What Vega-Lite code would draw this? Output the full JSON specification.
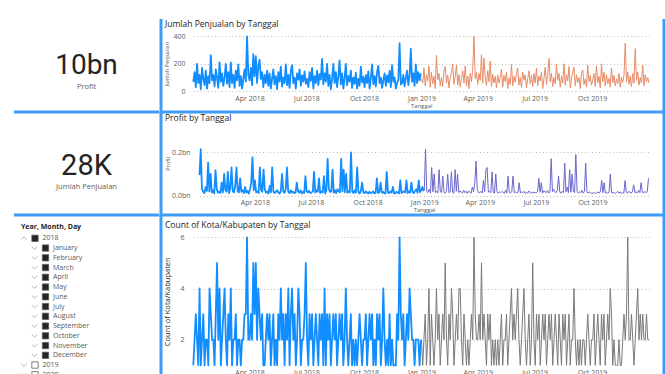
{
  "$schema": "https://vega.github.io/schema/vega-lite/v6.json",
  "description": "Dashboard penjualan harian 2018-2019: kartu KPI, slicer tanggal dan tiga grafik garis. Nilai profit dalam juta rupiah.",
  "padding": {"left": 12, "top": 17, "right": 0, "bottom": 0},
  "background": "white",
  "config": {
    "font": "Open Sans",
    "view": {"stroke": null},
    "axis": {"domain": false, "ticks": false, "grid": false, "labelColor": "#605E5C", "labelFontSize": 7, "titleColor": "#605E5C", "titleFontWeight": "normal", "titleFontSize": 6, "labelOverlap": false, "labelFlush": false, "gridColor": "#BEBCBA", "gridDash": [1, 2.5], "gridWidth": 1},
    "title": {"anchor": "start", "frame": "group", "fontWeight": "normal", "fontSize": 8.5, "color": "#252423", "baseline": "alphabetic"},
    "line": {"strokeJoin": "round"}
  },
  "datasets": {
    "kpi": [
      {"ukuran": "Profit", "nilai": "10bn"},
      {"ukuran": "Jumlah Penjualan", "nilai": "28K"}
    ],
    "pohon": [
      {"item": "2018", "baris": 0, "level": 0, "buka": "ya", "centang": "ya"},
      {"item": "January", "baris": 1, "level": 1, "buka": "tidak", "centang": "ya"},
      {"item": "February", "baris": 2, "level": 1, "buka": "tidak", "centang": "ya"},
      {"item": "March", "baris": 3, "level": 1, "buka": "tidak", "centang": "ya"},
      {"item": "April", "baris": 4, "level": 1, "buka": "tidak", "centang": "ya"},
      {"item": "May", "baris": 5, "level": 1, "buka": "tidak", "centang": "ya"},
      {"item": "June", "baris": 6, "level": 1, "buka": "tidak", "centang": "ya"},
      {"item": "July", "baris": 7, "level": 1, "buka": "tidak", "centang": "ya"},
      {"item": "August", "baris": 8, "level": 1, "buka": "tidak", "centang": "ya"},
      {"item": "September", "baris": 9, "level": 1, "buka": "tidak", "centang": "ya"},
      {"item": "October", "baris": 10, "level": 1, "buka": "tidak", "centang": "ya"},
      {"item": "November", "baris": 11, "level": 1, "buka": "tidak", "centang": "ya"},
      {"item": "December", "baris": 12, "level": 1, "buka": "tidak", "centang": "ya"},
      {"item": "2019", "baris": 13, "level": 0, "buka": "tidak", "centang": "tidak"},
      {"item": "2020", "baris": 14, "level": 0, "buka": "tidak", "centang": "tidak"}
    ],
    "harian": [
      {"tgl":"2018-01-01","jual":68,"profit":95,"kota":1},
      {"tgl":"2018-01-03","jual":140,"profit":214,"kota":2},
      {"tgl":"2018-01-05","jual":30,"profit":30,"kota":3},
      {"tgl":"2018-01-07","jual":200,"profit":18,"kota":2},
      {"tgl":"2018-01-09","jual":60,"profit":12,"kota":1},
      {"tgl":"2018-01-11","jual":120,"profit":40,"kota":4},
      {"tgl":"2018-01-13","jual":15,"profit":22,"kota":1},
      {"tgl":"2018-01-15","jual":170,"profit":152,"kota":2},
      {"tgl":"2018-01-17","jual":90,"profit":20,"kota":3},
      {"tgl":"2018-01-19","jual":45,"profit":100,"kota":1},
      {"tgl":"2018-01-21","jual":150,"profit":15,"kota":2},
      {"tgl":"2018-01-23","jual":20,"profit":25,"kota":2},
      {"tgl":"2018-01-25","jual":110,"profit":10,"kota":1},
      {"tgl":"2018-01-27","jual":60,"profit":118,"kota":4},
      {"tgl":"2018-01-29","jual":262,"profit":30,"kota":3},
      {"tgl":"2018-01-31","jual":80,"profit":14,"kota":2},
      {"tgl":"2018-02-02","jual":120,"profit":20,"kota":2},
      {"tgl":"2018-02-04","jual":35,"profit":12,"kota":1},
      {"tgl":"2018-02-06","jual":160,"profit":60,"kota":3},
      {"tgl":"2018-02-08","jual":95,"profit":15,"kota":5},
      {"tgl":"2018-02-10","jual":25,"profit":100,"kota":2},
      {"tgl":"2018-02-12","jual":210,"profit":25,"kota":4},
      {"tgl":"2018-02-14","jual":70,"profit":18,"kota":1},
      {"tgl":"2018-02-16","jual":130,"profit":110,"kota":2},
      {"tgl":"2018-02-18","jual":40,"profit":12,"kota":3},
      {"tgl":"2018-02-20","jual":100,"profit":35,"kota":4},
      {"tgl":"2018-02-22","jual":200,"profit":130,"kota":2},
      {"tgl":"2018-02-24","jual":55,"profit":20,"kota":1},
      {"tgl":"2018-02-26","jual":140,"profit":15,"kota":3},
      {"tgl":"2018-02-28","jual":30,"profit":45,"kota":2},
      {"tgl":"2018-03-02","jual":210,"profit":130,"kota":4},
      {"tgl":"2018-03-04","jual":60,"profit":20,"kota":1},
      {"tgl":"2018-03-06","jual":120,"profit":15,"kota":2},
      {"tgl":"2018-03-08","jual":25,"profit":80,"kota":2},
      {"tgl":"2018-03-10","jual":150,"profit":18,"kota":3},
      {"tgl":"2018-03-12","jual":80,"profit":25,"kota":1},
      {"tgl":"2018-03-14","jual":195,"profit":12,"kota":2},
      {"tgl":"2018-03-16","jual":40,"profit":40,"kota":2},
      {"tgl":"2018-03-18","jual":110,"profit":15,"kota":1},
      {"tgl":"2018-03-20","jual":20,"profit":22,"kota":2},
      {"tgl":"2018-03-22","jual":90,"profit":10,"kota":2},
      {"tgl":"2018-03-24","jual":160,"profit":30,"kota":3},
      {"tgl":"2018-03-26","jual":70,"profit":60,"kota":3},
      {"tgl":"2018-03-28","jual":400,"profit":177,"kota":6},
      {"tgl":"2018-03-30","jual":120,"profit":25,"kota":2},
      {"tgl":"2018-04-01","jual":80,"profit":70,"kota":2},
      {"tgl":"2018-04-03","jual":170,"profit":15,"kota":3},
      {"tgl":"2018-04-05","jual":45,"profit":20,"kota":2},
      {"tgl":"2018-04-07","jual":270,"profit":12,"kota":5},
      {"tgl":"2018-04-09","jual":110,"profit":130,"kota":3},
      {"tgl":"2018-04-11","jual":255,"profit":25,"kota":5},
      {"tgl":"2018-04-13","jual":60,"profit":18,"kota":2},
      {"tgl":"2018-04-15","jual":180,"profit":120,"kota":4},
      {"tgl":"2018-04-17","jual":230,"profit":30,"kota":3},
      {"tgl":"2018-04-19","jual":90,"profit":14,"kota":2},
      {"tgl":"2018-04-21","jual":140,"profit":20,"kota":3},
      {"tgl":"2018-04-23","jual":30,"profit":10,"kota":1},
      {"tgl":"2018-04-25","jual":120,"profit":45,"kota":1},
      {"tgl":"2018-04-27","jual":60,"profit":16,"kota":2},
      {"tgl":"2018-04-29","jual":150,"profit":130,"kota":3},
      {"tgl":"2018-05-01","jual":40,"profit":20,"kota":2},
      {"tgl":"2018-05-03","jual":130,"profit":12,"kota":3},
      {"tgl":"2018-05-05","jual":20,"profit":18,"kota":1},
      {"tgl":"2018-05-07","jual":90,"profit":25,"kota":2},
      {"tgl":"2018-05-09","jual":160,"profit":15,"kota":3},
      {"tgl":"2018-05-11","jual":50,"profit":10,"kota":1},
      {"tgl":"2018-05-13","jual":110,"profit":22,"kota":2},
      {"tgl":"2018-05-15","jual":15,"profit":100,"kota":1},
      {"tgl":"2018-05-17","jual":140,"profit":18,"kota":3},
      {"tgl":"2018-05-19","jual":70,"profit":14,"kota":2},
      {"tgl":"2018-05-21","jual":180,"profit":30,"kota":4},
      {"tgl":"2018-05-23","jual":35,"profit":130,"kota":2},
      {"tgl":"2018-05-25","jual":100,"profit":20,"kota":3},
      {"tgl":"2018-05-27","jual":60,"profit":12,"kota":1},
      {"tgl":"2018-05-29","jual":195,"profit":25,"kota":3},
      {"tgl":"2018-05-31","jual":45,"profit":15,"kota":2},
      {"tgl":"2018-06-02","jual":120,"profit":18,"kota":4},
      {"tgl":"2018-06-04","jual":25,"profit":12,"kota":1},
      {"tgl":"2018-06-06","jual":150,"profit":15,"kota":3},
      {"tgl":"2018-06-08","jual":190,"profit":60,"kota":4},
      {"tgl":"2018-06-10","jual":60,"profit":20,"kota":2},
      {"tgl":"2018-06-12","jual":100,"profit":14,"kota":3},
      {"tgl":"2018-06-14","jual":20,"profit":25,"kota":1},
      {"tgl":"2018-06-16","jual":130,"profit":10,"kota":2},
      {"tgl":"2018-06-18","jual":85,"profit":18,"kota":4},
      {"tgl":"2018-06-20","jual":160,"profit":12,"kota":3},
      {"tgl":"2018-06-22","jual":40,"profit":90,"kota":1},
      {"tgl":"2018-06-24","jual":115,"profit":20,"kota":2},
      {"tgl":"2018-06-26","jual":70,"profit":15,"kota":2},
      {"tgl":"2018-06-28","jual":145,"profit":22,"kota":3},
      {"tgl":"2018-06-30","jual":55,"profit":12,"kota":5},
      {"tgl":"2018-07-02","jual":90,"profit":15,"kota":2},
      {"tgl":"2018-07-04","jual":30,"profit":20,"kota":1},
      {"tgl":"2018-07-06","jual":140,"profit":110,"kota":3},
      {"tgl":"2018-07-08","jual":75,"profit":14,"kota":2},
      {"tgl":"2018-07-10","jual":170,"profit":25,"kota":3},
      {"tgl":"2018-07-12","jual":20,"profit":18,"kota":1},
      {"tgl":"2018-07-14","jual":110,"profit":80,"kota":2},
      {"tgl":"2018-07-16","jual":60,"profit":12,"kota":3},
      {"tgl":"2018-07-18","jual":150,"profit":20,"kota":2},
      {"tgl":"2018-07-20","jual":45,"profit":15,"kota":1},
      {"tgl":"2018-07-22","jual":125,"profit":90,"kota":3},
      {"tgl":"2018-07-24","jual":85,"profit":10,"kota":2},
      {"tgl":"2018-07-26","jual":235,"profit":25,"kota":3},
      {"tgl":"2018-07-28","jual":50,"profit":170,"kota":1},
      {"tgl":"2018-07-30","jual":130,"profit":30,"kota":4},
      {"tgl":"2018-08-01","jual":70,"profit":18,"kota":1},
      {"tgl":"2018-08-03","jual":200,"profit":20,"kota":3},
      {"tgl":"2018-08-05","jual":40,"profit":120,"kota":2},
      {"tgl":"2018-08-07","jual":120,"profit":14,"kota":3},
      {"tgl":"2018-08-09","jual":15,"profit":25,"kota":1},
      {"tgl":"2018-08-11","jual":90,"profit":12,"kota":2},
      {"tgl":"2018-08-13","jual":200,"profit":30,"kota":3},
      {"tgl":"2018-08-15","jual":60,"profit":20,"kota":2},
      {"tgl":"2018-08-17","jual":140,"profit":15,"kota":3},
      {"tgl":"2018-08-19","jual":30,"profit":170,"kota":1},
      {"tgl":"2018-08-21","jual":110,"profit":20,"kota":2},
      {"tgl":"2018-08-23","jual":225,"profit":120,"kota":3},
      {"tgl":"2018-08-25","jual":50,"profit":16,"kota":2},
      {"tgl":"2018-08-27","jual":130,"profit":100,"kota":3},
      {"tgl":"2018-08-29","jual":20,"profit":14,"kota":1},
      {"tgl":"2018-08-31","jual":95,"profit":22,"kota":2},
      {"tgl":"2018-09-02","jual":200,"profit":15,"kota":4},
      {"tgl":"2018-09-04","jual":45,"profit":200,"kota":2},
      {"tgl":"2018-09-06","jual":110,"profit":20,"kota":1},
      {"tgl":"2018-09-08","jual":70,"profit":12,"kota":2},
      {"tgl":"2018-09-10","jual":150,"profit":25,"kota":3},
      {"tgl":"2018-09-12","jual":25,"profit":14,"kota":1},
      {"tgl":"2018-09-14","jual":100,"profit":130,"kota":2},
      {"tgl":"2018-09-16","jual":55,"profit":18,"kota":1},
      {"tgl":"2018-09-18","jual":135,"profit":10,"kota":2},
      {"tgl":"2018-09-20","jual":20,"profit":22,"kota":1},
      {"tgl":"2018-09-22","jual":90,"profit":60,"kota":2},
      {"tgl":"2018-09-24","jual":40,"profit":15,"kota":3},
      {"tgl":"2018-09-26","jual":180,"profit":12,"kota":2},
      {"tgl":"2018-09-28","jual":65,"profit":20,"kota":1},
      {"tgl":"2018-09-30","jual":105,"profit":14,"kota":2},
      {"tgl":"2018-10-02","jual":30,"profit":10,"kota":2},
      {"tgl":"2018-10-04","jual":120,"profit":18,"kota":3},
      {"tgl":"2018-10-06","jual":60,"profit":12,"kota":1},
      {"tgl":"2018-10-08","jual":145,"profit":15,"kota":2},
      {"tgl":"2018-10-10","jual":20,"profit":20,"kota":3},
      {"tgl":"2018-10-12","jual":95,"profit":10,"kota":2},
      {"tgl":"2018-10-14","jual":195,"profit":14,"kota":3},
      {"tgl":"2018-10-16","jual":50,"profit":80,"kota":1},
      {"tgl":"2018-10-18","jual":110,"profit":12,"kota":2},
      {"tgl":"2018-10-20","jual":35,"profit":16,"kota":1},
      {"tgl":"2018-10-22","jual":140,"profit":60,"kota":3},
      {"tgl":"2018-10-24","jual":185,"profit":14,"kota":2},
      {"tgl":"2018-10-26","jual":60,"profit":18,"kota":3},
      {"tgl":"2018-10-28","jual":100,"profit":10,"kota":1},
      {"tgl":"2018-10-30","jual":25,"profit":12,"kota":2},
      {"tgl":"2018-11-01","jual":80,"profit":110,"kota":4},
      {"tgl":"2018-11-03","jual":130,"profit":15,"kota":2},
      {"tgl":"2018-11-05","jual":40,"profit":12,"kota":1},
      {"tgl":"2018-11-07","jual":115,"profit":20,"kota":2},
      {"tgl":"2018-11-09","jual":65,"profit":14,"kota":1},
      {"tgl":"2018-11-11","jual":150,"profit":40,"kota":3},
      {"tgl":"2018-11-13","jual":30,"profit":10,"kota":1},
      {"tgl":"2018-11-15","jual":190,"profit":12,"kota":2},
      {"tgl":"2018-11-17","jual":70,"profit":18,"kota":1},
      {"tgl":"2018-11-19","jual":100,"profit":15,"kota":1},
      {"tgl":"2018-11-21","jual":20,"profit":10,"kota":1},
      {"tgl":"2018-11-23","jual":60,"profit":70,"kota":3},
      {"tgl":"2018-11-25","jual":85,"profit":12,"kota":2},
      {"tgl":"2018-11-27","jual":350,"profit":16,"kota":6},
      {"tgl":"2018-11-29","jual":50,"profit":20,"kota":3},
      {"tgl":"2018-12-01","jual":60,"profit":15,"kota":2},
      {"tgl":"2018-12-03","jual":120,"profit":70,"kota":3},
      {"tgl":"2018-12-05","jual":35,"profit":12,"kota":1},
      {"tgl":"2018-12-07","jual":95,"profit":20,"kota":2},
      {"tgl":"2018-12-09","jual":150,"profit":14,"kota":3},
      {"tgl":"2018-12-11","jual":45,"profit":60,"kota":2},
      {"tgl":"2018-12-13","jual":110,"profit":18,"kota":4},
      {"tgl":"2018-12-15","jual":310,"profit":12,"kota":3},
      {"tgl":"2018-12-17","jual":70,"profit":22,"kota":2},
      {"tgl":"2018-12-19","jual":130,"profit":30,"kota":2},
      {"tgl":"2018-12-21","jual":40,"profit":14,"kota":1},
      {"tgl":"2018-12-23","jual":195,"profit":70,"kota":2},
      {"tgl":"2018-12-25","jual":60,"profit":16,"kota":2},
      {"tgl":"2018-12-27","jual":140,"profit":25,"kota":2},
      {"tgl":"2018-12-29","jual":80,"profit":40,"kota":1},
      {"tgl":"2018-12-31","jual":130,"profit":20,"kota":2},
      {"tgl":"2019-01-01","jual":90,"profit":25,"kota":2},
      {"tgl":"2019-01-03","jual":60,"profit":214,"kota":1},
      {"tgl":"2019-01-05","jual":170,"profit":20,"kota":2},
      {"tgl":"2019-01-07","jual":40,"profit":15,"kota":3},
      {"tgl":"2019-01-09","jual":120,"profit":30,"kota":1},
      {"tgl":"2019-01-11","jual":75,"profit":12,"kota":2},
      {"tgl":"2019-01-13","jual":185,"profit":130,"kota":4},
      {"tgl":"2019-01-15","jual":30,"profit":18,"kota":1},
      {"tgl":"2019-01-17","jual":140,"profit":100,"kota":3},
      {"tgl":"2019-01-19","jual":55,"profit":14,"kota":2},
      {"tgl":"2019-01-21","jual":110,"profit":20,"kota":1},
      {"tgl":"2019-01-23","jual":20,"profit":12,"kota":2},
      {"tgl":"2019-01-25","jual":262,"profit":120,"kota":4},
      {"tgl":"2019-01-27","jual":85,"profit":18,"kota":2},
      {"tgl":"2019-01-29","jual":130,"profit":15,"kota":3},
      {"tgl":"2019-01-31","jual":40,"profit":90,"kota":1},
      {"tgl":"2019-02-02","jual":100,"profit":15,"kota":2},
      {"tgl":"2019-02-04","jual":35,"profit":12,"kota":3},
      {"tgl":"2019-02-06","jual":150,"profit":20,"kota":2},
      {"tgl":"2019-02-08","jual":180,"profit":100,"kota":5},
      {"tgl":"2019-02-10","jual":60,"profit":14,"kota":2},
      {"tgl":"2019-02-12","jual":120,"profit":18,"kota":1},
      {"tgl":"2019-02-14","jual":25,"profit":110,"kota":3},
      {"tgl":"2019-02-16","jual":95,"profit":16,"kota":2},
      {"tgl":"2019-02-18","jual":140,"profit":12,"kota":4},
      {"tgl":"2019-02-20","jual":200,"profit":120,"kota":3},
      {"tgl":"2019-02-22","jual":50,"profit":20,"kota":1},
      {"tgl":"2019-02-24","jual":110,"profit":100,"kota":2},
      {"tgl":"2019-02-26","jual":190,"profit":14,"kota":3},
      {"tgl":"2019-02-28","jual":45,"profit":22,"kota":2},
      {"tgl":"2019-03-02","jual":120,"profit":18,"kota":4},
      {"tgl":"2019-03-04","jual":30,"profit":12,"kota":4},
      {"tgl":"2019-03-06","jual":90,"profit":25,"kota":2},
      {"tgl":"2019-03-08","jual":150,"profit":14,"kota":1},
      {"tgl":"2019-03-10","jual":60,"profit":20,"kota":3},
      {"tgl":"2019-03-12","jual":185,"profit":10,"kota":2},
      {"tgl":"2019-03-14","jual":40,"profit":22,"kota":1},
      {"tgl":"2019-03-16","jual":110,"profit":15,"kota":2},
      {"tgl":"2019-03-18","jual":20,"profit":12,"kota":1},
      {"tgl":"2019-03-20","jual":130,"profit":40,"kota":2},
      {"tgl":"2019-03-22","jual":70,"profit":18,"kota":3},
      {"tgl":"2019-03-24","jual":160,"profit":60,"kota":2},
      {"tgl":"2019-03-26","jual":400,"profit":160,"kota":6},
      {"tgl":"2019-03-28","jual":90,"profit":30,"kota":3},
      {"tgl":"2019-03-30","jual":140,"profit":15,"kota":2},
      {"tgl":"2019-04-01","jual":50,"profit":14,"kota":2},
      {"tgl":"2019-04-03","jual":130,"profit":20,"kota":3},
      {"tgl":"2019-04-05","jual":80,"profit":12,"kota":2},
      {"tgl":"2019-04-07","jual":265,"profit":70,"kota":5},
      {"tgl":"2019-04-09","jual":60,"profit":18,"kota":2},
      {"tgl":"2019-04-11","jual":240,"profit":120,"kota":3},
      {"tgl":"2019-04-13","jual":100,"profit":130,"kota":2},
      {"tgl":"2019-04-15","jual":40,"profit":16,"kota":1},
      {"tgl":"2019-04-17","jual":150,"profit":20,"kota":3},
      {"tgl":"2019-04-19","jual":70,"profit":14,"kota":2},
      {"tgl":"2019-04-21","jual":220,"profit":110,"kota":3},
      {"tgl":"2019-04-23","jual":35,"profit":15,"kota":1},
      {"tgl":"2019-04-25","jual":125,"profit":12,"kota":2},
      {"tgl":"2019-04-27","jual":60,"profit":100,"kota":1},
      {"tgl":"2019-04-29","jual":110,"profit":18,"kota":2},
      {"tgl":"2019-05-01","jual":25,"profit":12,"kota":1},
      {"tgl":"2019-05-03","jual":120,"profit":18,"kota":2},
      {"tgl":"2019-05-05","jual":60,"profit":14,"kota":1},
      {"tgl":"2019-05-07","jual":100,"profit":20,"kota":2},
      {"tgl":"2019-05-09","jual":160,"profit":15,"kota":3},
      {"tgl":"2019-05-11","jual":30,"profit":10,"kota":1},
      {"tgl":"2019-05-13","jual":115,"profit":25,"kota":2},
      {"tgl":"2019-05-15","jual":70,"profit":12,"kota":2},
      {"tgl":"2019-05-17","jual":140,"profit":90,"kota":3},
      {"tgl":"2019-05-19","jual":20,"profit":16,"kota":1},
      {"tgl":"2019-05-21","jual":95,"profit":12,"kota":2},
      {"tgl":"2019-05-23","jual":50,"profit":20,"kota":3},
      {"tgl":"2019-05-25","jual":195,"profit":90,"kota":4},
      {"tgl":"2019-05-27","jual":40,"profit":14,"kota":2},
      {"tgl":"2019-05-29","jual":110,"profit":18,"kota":3},
      {"tgl":"2019-05-31","jual":65,"profit":12,"kota":2},
      {"tgl":"2019-06-02","jual":130,"profit":15,"kota":3},
      {"tgl":"2019-06-04","jual":170,"profit":60,"kota":4},
      {"tgl":"2019-06-06","jual":45,"profit":12,"kota":2},
      {"tgl":"2019-06-08","jual":100,"profit":18,"kota":1},
      {"tgl":"2019-06-10","jual":30,"profit":14,"kota":2},
      {"tgl":"2019-06-12","jual":140,"profit":20,"kota":3},
      {"tgl":"2019-06-14","jual":80,"profit":10,"kota":4},
      {"tgl":"2019-06-16","jual":120,"profit":16,"kota":2},
      {"tgl":"2019-06-18","jual":25,"profit":12,"kota":1},
      {"tgl":"2019-06-20","jual":90,"profit":22,"kota":2},
      {"tgl":"2019-06-22","jual":150,"profit":14,"kota":3},
      {"tgl":"2019-06-24","jual":55,"profit":10,"kota":1},
      {"tgl":"2019-06-26","jual":115,"profit":18,"kota":2},
      {"tgl":"2019-06-28","jual":35,"profit":12,"kota":5},
      {"tgl":"2019-06-30","jual":130,"profit":15,"kota":2},
      {"tgl":"2019-07-02","jual":60,"profit":14,"kota":1},
      {"tgl":"2019-07-04","jual":170,"profit":20,"kota":3},
      {"tgl":"2019-07-06","jual":40,"profit":80,"kota":2},
      {"tgl":"2019-07-08","jual":110,"profit":16,"kota":3},
      {"tgl":"2019-07-10","jual":75,"profit":60,"kota":1},
      {"tgl":"2019-07-12","jual":140,"profit":12,"kota":2},
      {"tgl":"2019-07-14","jual":20,"profit":22,"kota":3},
      {"tgl":"2019-07-16","jual":95,"profit":18,"kota":2},
      {"tgl":"2019-07-18","jual":175,"profit":14,"kota":3},
      {"tgl":"2019-07-20","jual":50,"profit":25,"kota":1},
      {"tgl":"2019-07-22","jual":120,"profit":12,"kota":2},
      {"tgl":"2019-07-24","jual":240,"profit":20,"kota":3},
      {"tgl":"2019-07-26","jual":70,"profit":170,"kota":2},
      {"tgl":"2019-07-28","jual":130,"profit":18,"kota":3},
      {"tgl":"2019-07-30","jual":35,"profit":30,"kota":1},
      {"tgl":"2019-08-01","jual":100,"profit":18,"kota":2},
      {"tgl":"2019-08-03","jual":55,"profit":14,"kota":3},
      {"tgl":"2019-08-05","jual":195,"profit":25,"kota":2},
      {"tgl":"2019-08-07","jual":80,"profit":90,"kota":1},
      {"tgl":"2019-08-09","jual":130,"profit":16,"kota":3},
      {"tgl":"2019-08-11","jual":30,"profit":12,"kota":2},
      {"tgl":"2019-08-13","jual":110,"profit":20,"kota":1},
      {"tgl":"2019-08-15","jual":60,"profit":14,"kota":3},
      {"tgl":"2019-08-17","jual":200,"profit":150,"kota":2},
      {"tgl":"2019-08-19","jual":45,"profit":18,"kota":3},
      {"tgl":"2019-08-21","jual":120,"profit":40,"kota":1},
      {"tgl":"2019-08-23","jual":75,"profit":14,"kota":2},
      {"tgl":"2019-08-25","jual":180,"profit":120,"kota":3},
      {"tgl":"2019-08-27","jual":25,"profit":16,"kota":1},
      {"tgl":"2019-08-29","jual":95,"profit":100,"kota":2},
      {"tgl":"2019-08-31","jual":140,"profit":22,"kota":2},
      {"tgl":"2019-09-02","jual":175,"profit":14,"kota":4},
      {"tgl":"2019-09-04","jual":40,"profit":190,"kota":2},
      {"tgl":"2019-09-06","jual":120,"profit":20,"kota":1},
      {"tgl":"2019-09-08","jual":65,"profit":12,"kota":2},
      {"tgl":"2019-09-10","jual":100,"profit":18,"kota":1},
      {"tgl":"2019-09-12","jual":20,"profit":14,"kota":2},
      {"tgl":"2019-09-14","jual":130,"profit":25,"kota":1},
      {"tgl":"2019-09-16","jual":155,"profit":12,"kota":2},
      {"tgl":"2019-09-18","jual":50,"profit":20,"kota":2},
      {"tgl":"2019-09-20","jual":90,"profit":150,"kota":1},
      {"tgl":"2019-09-22","jual":30,"profit":16,"kota":2},
      {"tgl":"2019-09-24","jual":190,"profit":12,"kota":3},
      {"tgl":"2019-09-26","jual":70,"profit":18,"kota":2},
      {"tgl":"2019-09-28","jual":115,"profit":14,"kota":1},
      {"tgl":"2019-09-30","jual":45,"profit":10,"kota":2},
      {"tgl":"2019-10-02","jual":85,"profit":12,"kota":2},
      {"tgl":"2019-10-04","jual":130,"profit":16,"kota":3},
      {"tgl":"2019-10-06","jual":35,"profit":10,"kota":1},
      {"tgl":"2019-10-08","jual":185,"profit":14,"kota":2},
      {"tgl":"2019-10-10","jual":60,"profit":18,"kota":3},
      {"tgl":"2019-10-12","jual":110,"profit":12,"kota":2},
      {"tgl":"2019-10-14","jual":25,"profit":20,"kota":1},
      {"tgl":"2019-10-16","jual":200,"profit":70,"kota":3},
      {"tgl":"2019-10-18","jual":70,"profit":14,"kota":2},
      {"tgl":"2019-10-20","jual":140,"profit":60,"kota":3},
      {"tgl":"2019-10-22","jual":40,"profit":12,"kota":1},
      {"tgl":"2019-10-24","jual":120,"profit":16,"kota":2},
      {"tgl":"2019-10-26","jual":55,"profit":10,"kota":3},
      {"tgl":"2019-10-28","jual":95,"profit":18,"kota":2},
      {"tgl":"2019-10-30","jual":30,"profit":100,"kota":4},
      {"tgl":"2019-11-01","jual":170,"profit":14,"kota":3},
      {"tgl":"2019-11-03","jual":60,"profit":12,"kota":1},
      {"tgl":"2019-11-05","jual":115,"profit":16,"kota":2},
      {"tgl":"2019-11-07","jual":40,"profit":10,"kota":1},
      {"tgl":"2019-11-09","jual":90,"profit":14,"kota":1},
      {"tgl":"2019-11-11","jual":55,"profit":20,"kota":1},
      {"tgl":"2019-11-13","jual":130,"profit":12,"kota":2},
      {"tgl":"2019-11-15","jual":30,"profit":18,"kota":1},
      {"tgl":"2019-11-17","jual":100,"profit":10,"kota":1},
      {"tgl":"2019-11-19","jual":65,"profit":14,"kota":2},
      {"tgl":"2019-11-21","jual":120,"profit":12,"kota":3},
      {"tgl":"2019-11-23","jual":350,"profit":70,"kota":2},
      {"tgl":"2019-11-25","jual":70,"profit":16,"kota":3},
      {"tgl":"2019-11-27","jual":140,"profit":12,"kota":6},
      {"tgl":"2019-11-29","jual":50,"profit":20,"kota":2},
      {"tgl":"2019-12-01","jual":110,"profit":16,"kota":2},
      {"tgl":"2019-12-03","jual":35,"profit":12,"kota":3},
      {"tgl":"2019-12-05","jual":130,"profit":20,"kota":2},
      {"tgl":"2019-12-07","jual":60,"profit":50,"kota":1},
      {"tgl":"2019-12-09","jual":310,"profit":14,"kota":2},
      {"tgl":"2019-12-11","jual":80,"profit":18,"kota":3},
      {"tgl":"2019-12-13","jual":140,"profit":12,"kota":4},
      {"tgl":"2019-12-15","jual":45,"profit":25,"kota":2},
      {"tgl":"2019-12-17","jual":100,"profit":14,"kota":3},
      {"tgl":"2019-12-19","jual":60,"profit":60,"kota":2},
      {"tgl":"2019-12-21","jual":190,"profit":16,"kota":3},
      {"tgl":"2019-12-23","jual":40,"profit":12,"kota":2},
      {"tgl":"2019-12-25","jual":120,"profit":20,"kota":2},
      {"tgl":"2019-12-27","jual":70,"profit":14,"kota":3},
      {"tgl":"2019-12-29","jual":100,"profit":18,"kota":2},
      {"tgl":"2019-12-31","jual":60,"profit":80,"kota":2}
    ]
  },
  "spacing": -3,
  "resolve": {"scale": {"color": "independent", "strokeWidth": "independent", "shape": "independent", "fill": "independent"}},
  "hconcat": [
    {
      "spacing": 0,
      "bounds": "flush",
      "resolve": {"scale": {"shape": "independent", "fill": "independent"}},
      "vconcat": [
        {
          "width": 145,
          "height": 93,
          "view": {"stroke": "#3D9CF5", "strokeWidth": 3, "strokeDash": [0, 238, 145, 93]},
          "data": {"name": "kpi"},
          "transform": [{"filter": "datum.ukuran === 'Profit'"}],
          "layer": [
            {"mark": {"type": "text", "font": "Roboto", "fontSize": 28, "color": "#252423", "baseline": "alphabetic", "dy": 8}, "encoding": {"text": {"field": "nilai"}}},
            {"mark": {"type": "text", "fontSize": 7.5, "color": "#605E5C", "baseline": "alphabetic", "dy": 23}, "encoding": {"text": {"field": "ukuran"}}}
          ]
        },
        {
          "width": 145,
          "height": 103,
          "view": {"stroke": "#3D9CF5", "strokeWidth": 3, "strokeDash": [0, 248, 145, 103]},
          "data": {"name": "kpi"},
          "transform": [{"filter": "datum.ukuran === 'Jumlah Penjualan'"}],
          "layer": [
            {"mark": {"type": "text", "font": "Roboto", "fontSize": 29, "color": "#252423", "baseline": "alphabetic", "dy": 11}, "encoding": {"text": {"field": "nilai"}}},
            {"mark": {"type": "text", "fontSize": 7.5, "color": "#605E5C", "baseline": "alphabetic", "dy": 25}, "encoding": {"text": {"field": "ukuran"}}}
          ]
        },
        {
          "width": 145,
          "height": 159,
          "title": {"text": "Year, Month, Day", "offset": -15, "dx": 7, "fontSize": 7, "fontWeight": "bold", "color": "#252423"},
          "data": {"name": "pohon"},
          "encoding": {
            "y": {"field": "baris", "type": "quantitative", "scale": {"domain": [0, 14], "range": [23.3, 159.8]}, "axis": null},
            "x": {"field": "level", "type": "quantitative", "scale": {"domain": [0, 1], "range": [21, 31.5]}, "axis": null}
          },
          "layer": [
            {
              "mark": {"type": "point", "filled": false, "xOffset": -11, "size": 28, "strokeWidth": 0.8, "color": "#A19F9D", "opacity": 1},
              "encoding": {"shape": {"field": "buka", "type": "nominal", "scale": {"domain": ["ya", "tidak"], "range": ["M-1,0.5L0,-0.5L1,0.5", "M-1,-0.5L0,0.5L1,-0.5"]}, "legend": null}}
            },
            {
              "mark": {"type": "square", "size": 40, "stroke": "#605E5C", "strokeWidth": 0.8, "opacity": 1},
              "encoding": {"fill": {"field": "centang", "type": "nominal", "scale": {"domain": ["ya", "tidak"], "range": ["#252423", "#FFFFFF"]}, "legend": null}}
            },
            {
              "mark": {"type": "text", "align": "left", "baseline": "middle", "dx": 7.5, "fontSize": 7, "color": "#5A5856"},
              "encoding": {"text": {"field": "item"}}
            }
          ]
        }
      ]
    },
    {
      "spacing": 0,
      "bounds": "flush",
      "resolve": {"scale": {"color": "independent", "strokeWidth": "independent"}},
      "vconcat": [
        {
          "width": 503,
          "height": 93,
          "view": {"stroke": "#3D9CF5", "strokeWidth": 3, "strokeDash": [0, 503, 689, 0]},
          "title": {"text": "Jumlah Penjualan by Tanggal", "offset": -9, "dx": 4},
          "data": {"name": "harian"},
          "mark": {"type": "line"},
          "encoding": {
            "x": {
              "field": "tgl", "type": "temporal",
              "scale": {"type": "utc", "domain": [{"year": 2018, "month": 1, "date": 1, "utc": true}, {"year": 2019, "month": 12, "date": 31, "utc": true}], "range": [32.3, 488]},
              "axis": {"values": [{"year": 2018, "month": 4, "date": 1, "utc": true}, {"year": 2018, "month": 7, "date": 1, "utc": true}, {"year": 2018, "month": 10, "date": 1, "utc": true}, {"year": 2019, "month": 1, "date": 1, "utc": true}, {"year": 2019, "month": 4, "date": 1, "utc": true}, {"year": 2019, "month": 7, "date": 1, "utc": true}, {"year": 2019, "month": 10, "date": 1, "utc": true}], "labelExpr": "utcFormat(datum.value, '%b %Y')", "offset": -20, "labelPadding": 2, "title": "Tanggal", "titlePadding": 1, "titleFontSize": 6}
            },
            "y": {
              "field": "jual", "type": "quantitative",
              "scale": {"domain": [0, 400], "nice": false, "range": [72.3, 17.3]},
              "axis": {"values": [0, 200, 400], "offset": -26, "labelPadding": 2, "title": "Jumlah Penjualan", "titleFontSize": 5.5, "titlePadding": 3, "grid": true}
            },
            "color": {"field": "tgl", "timeUnit": "utcyear", "type": "ordinal", "scale": {"range": ["#118DFF", "#E98C66"]}, "legend": null},
            "strokeWidth": {"field": "tgl", "timeUnit": "utcyear", "type": "ordinal", "scale": {"range": [1.8, 1]}, "legend": null}
          }
        },
        {
          "width": 503,
          "height": 103,
          "view": {"stroke": "#3D9CF5", "strokeWidth": 3, "strokeDash": [0, 503, 709, 0]},
          "title": {"text": "Profit by Tanggal", "offset": -10, "dx": 4},
          "data": {"name": "harian"},
          "mark": {"type": "line"},
          "encoding": {
            "x": {
              "field": "tgl", "type": "temporal",
              "scale": {"type": "utc", "domain": [{"year": 2018, "month": 1, "date": 1, "utc": true}, {"year": 2019, "month": 12, "date": 31, "utc": true}], "range": [38.5, 487.5]},
              "axis": {"values": [{"year": 2018, "month": 4, "date": 1, "utc": true}, {"year": 2018, "month": 7, "date": 1, "utc": true}, {"year": 2018, "month": 10, "date": 1, "utc": true}, {"year": 2019, "month": 1, "date": 1, "utc": true}, {"year": 2019, "month": 4, "date": 1, "utc": true}, {"year": 2019, "month": 7, "date": 1, "utc": true}, {"year": 2019, "month": 10, "date": 1, "utc": true}], "labelExpr": "utcFormat(datum.value, '%b %Y')", "offset": -19, "labelPadding": 2, "title": "Tanggal", "titlePadding": 1, "titleFontSize": 6}
            },
            "y": {
              "field": "profit", "type": "quantitative",
              "scale": {"domain": [0, 300], "nice": false, "range": [83.7, 18.6]},
              "axis": {"values": [0, 200], "labelExpr": "format(datum.value / 1000, '.1f') + 'bn'", "offset": -31, "labelPadding": 2, "title": "Profit", "titleFontSize": 5.5, "titlePadding": 1, "grid": true}
            },
            "color": {"field": "tgl", "timeUnit": "utcyear", "type": "ordinal", "scale": {"range": ["#118DFF", "#6A67CB"]}, "legend": null},
            "strokeWidth": {"field": "tgl", "timeUnit": "utcyear", "type": "ordinal", "scale": {"range": [1.8, 1]}, "legend": null}
          }
        },
        {
          "width": 503,
          "height": 159,
          "view": {"stroke": "#3D9CF5", "strokeWidth": 3, "strokeDash": [0, 503, 159, 503, 159, 0]},
          "title": {"text": "Count of Kota/Kabupaten by Tanggal", "offset": -14, "dx": 4},
          "data": {"name": "harian"},
          "mark": {"type": "line"},
          "encoding": {
            "x": {
              "field": "tgl", "type": "temporal",
              "scale": {"type": "utc", "domain": [{"year": 2018, "month": 1, "date": 1, "utc": true}, {"year": 2019, "month": 12, "date": 31, "utc": true}], "range": [32.3, 488]},
              "axis": {"values": [{"year": 2018, "month": 4, "date": 1, "utc": true}, {"year": 2018, "month": 7, "date": 1, "utc": true}, {"year": 2018, "month": 10, "date": 1, "utc": true}, {"year": 2019, "month": 1, "date": 1, "utc": true}, {"year": 2019, "month": 4, "date": 1, "utc": true}, {"year": 2019, "month": 7, "date": 1, "utc": true}, {"year": 2019, "month": 10, "date": 1, "utc": true}], "labelExpr": "utcFormat(datum.value, '%b %Y')", "offset": -8, "labelPadding": 2, "title": null}
            },
            "y": {
              "field": "kota", "type": "quantitative",
              "scale": {"domain": [1, 6], "nice": false, "zero": false, "range": [150.3, 22.3]},
              "axis": {"values": [2, 4, 6], "offset": -25, "labelPadding": 2, "title": "Count of Kota/Kabupaten", "titleFontSize": 7.5, "titleColor": "#252423", "titlePadding": 8, "grid": true}
            },
            "color": {"field": "tgl", "timeUnit": "utcyear", "type": "ordinal", "scale": {"range": ["#118DFF", "#7A7A7A"]}, "legend": null},
            "strokeWidth": {"field": "tgl", "timeUnit": "utcyear", "type": "ordinal", "scale": {"range": [1.8, 1]}, "legend": null}
          }
        }
      ]
    }
  ]
}
